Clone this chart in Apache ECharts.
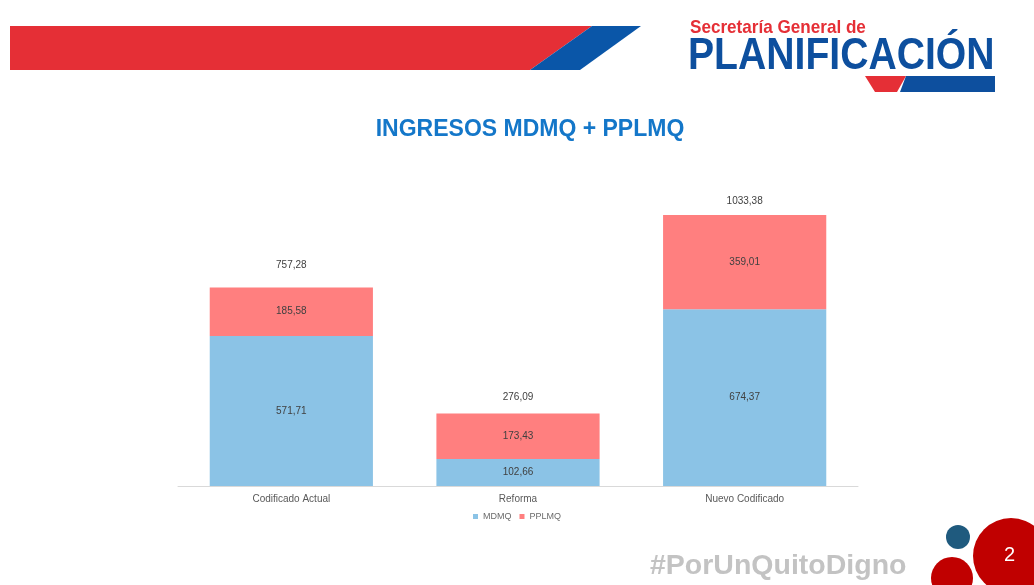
<!DOCTYPE html>
<html>
<head>
<meta charset="utf-8">
<script src="https://cdn.jsdelivr.net/npm/echarts@6/dist/echarts.min.js"></script>
<style>
  html, body { margin: 0; padding: 0; background: #fff; }
  #chart { width: 1034px; height: 585px; }
</style>
</head>
<body>
<div id="chart"></div>
<script>
// datos del gráfico
const categorias = ['Codificado Actual', 'Reforma', 'Nuevo Codificado'];
const mdmq = [571.71, 102.66, 674.37];
const pplmq = [185.58, 173.43, 359.01];
const totales = [757.28, 276.09, 1033.38];

const fmt = v => v.toFixed(2).replace('.', ',');
const fuente = '"Liberation Sans", Arial, sans-serif';
// separación de la etiqueta del total (como en el original, no es igual en cada barra)
const distTotal = [17, 11, 9];

const chart = echarts.init(document.getElementById('chart'), null, { renderer: 'canvas' });

const option = {
  animation: false,
  textStyle: { fontFamily: fuente },
  title: {
    text: 'INGRESOS MDMQ + PPLMQ',
    left: 525,
    textAlign: 'center',
    top: 113,
    textStyle: { color: '#1477c9', fontSize: 23, fontWeight: 'bold', fontFamily: fuente }
  },
  legend: {
    data: ['MDMQ', 'PPLMQ'],
    left: 'center',
    top: 507,
    itemWidth: 5,
    itemHeight: 5,
    itemGap: 8,
    icon: 'rect',
    textStyle: { color: '#6b6b6b', fontSize: 9, fontFamily: fuente }
  },
  grid: { left: 178, right: 176, top: 197.5, bottom: 99 },
  xAxis: {
    type: 'category',
    data: categorias,
    axisLine: { lineStyle: { color: '#d9d9d9', width: 1 } },
    axisTick: { show: false },
    axisLabel: { color: '#595959', fontSize: 10, margin: 8 }
  },
  yAxis: {
    type: 'value',
    min: 0,
    max: 1100,
    show: false,
    splitLine: { show: false }
  },
  series: [
    {
      name: 'MDMQ',
      type: 'bar',
      stack: 'total',
      data: mdmq,
      barWidth: '72%',
      itemStyle: { color: '#8bc3e6' },
      label: { show: true, position: 'inside', color: '#404040', fontSize: 10, formatter: p => fmt(p.value) }
    },
    {
      name: 'PPLMQ',
      type: 'bar',
      stack: 'total',
      data: pplmq,
      barWidth: '72%',
      itemStyle: { color: '#ff7f7f' },
      label: { show: true, position: 'inside', color: '#404040', fontSize: 10, formatter: p => fmt(p.value) }
    },
    {
      // serie auxiliar solo para mostrar el total sobre cada barra
      name: 'Total',
      type: 'bar',
      stack: 'total',
      data: totales.map((t, i) => ({ value: 0, label: { distance: distTotal[i] } })),
      barWidth: '72%',
      itemStyle: { color: 'transparent' },
      label: {
        show: true,
        position: 'top',
        color: '#404040',
        fontSize: 10,
        formatter: p => fmt(totales[p.dataIndex])
      }
    }
  ],
  graphic: [
    // franja superior roja y azul
    { type: 'polygon', shape: { points: [[10, 26], [592, 26], [530, 70], [10, 70]] }, style: { fill: '#e52f36' } },
    { type: 'polygon', shape: { points: [[592, 26], [641, 26], [580, 70], [530, 70]] }, style: { fill: '#0a56a8' } },
    // logo
    { type: 'text', x: 690, y: 18, scaleX: 0.9, style: { text: 'Secretaría General de', fill: '#e52f36', font: 'bold 19px "Liberation Sans", sans-serif' } },
    { type: 'text', x: 688, y: 35, scaleX: 1.03, scaleY: 1.16, style: { text: 'PLANIFICACIÓN', fill: '#0d4f9e', font: 'bold 38px "Liberation Sans", sans-serif' } },
    { type: 'polygon', shape: { points: [[865, 76], [906, 76], [897, 92], [875, 92]] }, style: { fill: '#e52f36' } },
    { type: 'polygon', shape: { points: [[906, 76], [995, 76], [995, 92], [900, 92]] }, style: { fill: '#0d4f9e' } },
    // pie de página
    { type: 'text', left: 650, top: 552, style: { text: '#PorUnQuitoDigno', fill: '#c3c3c3', font: 'bold 28.5px "Liberation Sans", Arial, sans-serif' } },
    { type: 'circle', shape: { cx: 958, cy: 537, r: 12 }, style: { fill: '#1f5a7e' } },
    { type: 'circle', shape: { cx: 952, cy: 578, r: 21 }, style: { fill: '#c00000' } },
    { type: 'circle', shape: { cx: 1011, cy: 556, r: 38 }, style: { fill: '#c00000' } },
    { type: 'text', left: 1004, top: 545, style: { text: '2', fill: '#ffffff', font: '20px "Liberation Sans", Arial, sans-serif' } }
  ]
};

chart.setOption(option);
</script>
</body>
</html>
